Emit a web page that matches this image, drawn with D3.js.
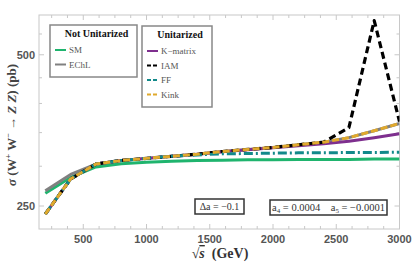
<!DOCTYPE html>
<html>
<head>
<meta charset="utf-8">
<script src="https://cdn.jsdelivr.net/npm/d3@7"></script>
<style>
  body { margin: 0; background: #fff; }
  svg { display: block; }
</style>
</head>
<body>
<svg width="413" height="268"></svg>
<script>
// sqrt(s) in GeV
const energies = [200, 400, 600, 800, 1000, 1200, 1400, 1600, 1800, 2000, 2200, 2400, 2600, 2800, 3000];

// cross sections (pb)
const smVals     = [265, 285, 299, 303.5, 305.5, 307, 308, 308.5, 309, 309, 309.5, 309.5, 309.5, 310, 310];
const echlVals   = [268, 289, 303, 308, 311, 314, 317, 321, 324, 327, 331, 335, 342, 353, 365];
const kmatVals   = [241, 283, 303, 308, 311, 314, 317, 320.5, 323.5, 326.5, 329.5, 332.5, 336.5, 342, 348];
const iamVals    = [241, 283, 303, 308, 311, 314, 317, 321, 324, 327, 331, 335, 358, 585, 368];
const ffVals     = [241, 283, 303, 308, 311, 314, 316, 317.5, 318, 318.5, 319, 319, 319.5, 319.5, 320];
const kinkVals   = [241, 283, 303, 308, 311, 314, 317, 321, 324, 327, 331, 335, 342, 353, 365];

const xTicks = [500, 1000, 1500, 2000, 2500, 3000];
const yTicks = [250, 500];
const yMinor = [300, 350, 400, 450, 550];

const series = [
  {name: 'SM',       vals: smVals,   color: '#1fb46e', dash: null,        width: 3,   group: 0},
  {name: 'EChL',     vals: echlVals, color: '#808080', dash: null,        width: 3,   group: 0},
  {name: 'K\u2212matrix', vals: kmatVals, color: '#7e2f8e', dash: null,   width: 3,   group: 1},
  {name: 'IAM',      vals: iamVals,  color: '#000000', dash: '7,4',       width: 3.2, group: 1},
  {name: 'FF',       vals: ffVals,   color: '#12898a', dash: '9,3,2,3',   width: 3,   group: 1},
  {name: 'Kink',     vals: kinkVals, color: '#e0a92d', dash: '7,3',       width: 3,   group: 1}
];

const svg = d3.select('svg');
const pl = 39, pr = 399.5, pt = 15, pb = 229;

const x = d3.scaleLinear().domain([150, 3000]).range([pl, pr]);
const y = d3.scaleLog().domain([225, 600]).range([pb, pt]);

const frameColor = '#c8c8c8';

// frame
svg.append('rect')
  .attr('x', pl).attr('y', pt)
  .attr('width', pr - pl).attr('height', pb - pt)
  .attr('fill', 'none').attr('stroke', frameColor).attr('stroke-width', 1);

// ticks on all four sides
const xMinor = d3.range(250, 3000, 125).filter(v => v % 500 !== 0);
const tickG = svg.append('g').attr('stroke', frameColor).attr('stroke-width', 1);
xTicks.forEach(v => {
  tickG.append('line').attr('x1', x(v)).attr('x2', x(v)).attr('y1', pb).attr('y2', pb - 5);
  tickG.append('line').attr('x1', x(v)).attr('x2', x(v)).attr('y1', pt).attr('y2', pt + 5);
});
xMinor.forEach(v => {
  tickG.append('line').attr('x1', x(v)).attr('x2', x(v)).attr('y1', pb).attr('y2', pb - 3);
  tickG.append('line').attr('x1', x(v)).attr('x2', x(v)).attr('y1', pt).attr('y2', pt + 3);
});
yTicks.forEach(v => {
  tickG.append('line').attr('x1', pl).attr('x2', pl + 5).attr('y1', y(v)).attr('y2', y(v));
  tickG.append('line').attr('x1', pr).attr('x2', pr - 5).attr('y1', y(v)).attr('y2', y(v));
});
yMinor.forEach(v => {
  tickG.append('line').attr('x1', pl).attr('x2', pl + 3).attr('y1', y(v)).attr('y2', y(v));
  tickG.append('line').attr('x1', pr).attr('x2', pr - 3).attr('y1', y(v)).attr('y2', y(v));
});

// tick labels
svg.append('g').selectAll('text').data(xTicks).join('text')
  .attr('x', d => x(d)).attr('y', pb + 14)
  .attr('text-anchor', 'middle')
  .attr('font-family', 'Liberation Sans, Arial, sans-serif')
  .attr('font-weight', 'bold').attr('font-size', 11).attr('fill', '#555')
  .text(d => d);
svg.append('g').selectAll('text').data(yTicks).join('text')
  .attr('x', pl - 4).attr('y', d => y(d) + 4)
  .attr('text-anchor', 'end')
  .attr('font-family', 'Liberation Sans, Arial, sans-serif')
  .attr('font-weight', 'bold').attr('font-size', 11).attr('fill', '#555')
  .text(d => d);

// curves
const line = d3.line().x((d, i) => x(energies[i])).y(d => y(d));
svg.append('defs').append('clipPath').attr('id', 'clip')
  .append('rect').attr('x', pl).attr('y', pt).attr('width', pr - pl).attr('height', pb - pt);
const curves = svg.append('g').attr('clip-path', 'url(#clip)');
series.forEach(s => {
  curves.append('path')
    .attr('d', line(s.vals))
    .attr('fill', 'none')
    .attr('stroke', s.color)
    .attr('stroke-width', s.width)
    .attr('stroke-dasharray', s.dash)
    .attr('stroke-linejoin', 'round');
});

// legends
const serif = 'Liberation Serif, Times New Roman, serif';
function legend(x0, y0, w, h, title, items) {
  const g = svg.append('g');
  g.append('rect').attr('x', x0).attr('y', y0).attr('width', w).attr('height', h)
    .attr('fill', '#fff').attr('stroke', '#888').attr('stroke-width', 1.5);
  g.append('text').attr('x', x0 + w / 2 + 3).attr('y', y0 + 12)
    .attr('text-anchor', 'middle').attr('font-family', serif)
    .attr('font-weight', 'bold').attr('font-size', 10).attr('fill', '#111')
    .text(title);
  items.forEach((s, i) => {
    const yy = y0 + 25 + i * 14.5;
    g.append('line').attr('x1', x0 + 5).attr('x2', x0 + 16).attr('y1', yy).attr('y2', yy)
      .attr('stroke', s.color).attr('stroke-width', 2)
      .attr('stroke-dasharray', s.dash ? '4,2' : null);
    g.append('text').attr('x', x0 + 19).attr('y', yy + 3)
      .attr('font-family', serif).attr('font-size', 9).attr('fill', '#555')
      .text(s.name);
  });
}
legend(50, 25, 87, 52, 'Not Unitarized', series.filter(s => s.group === 0));
legend(142, 26, 70, 81, 'Unitarized', series.filter(s => s.group === 1));

// parameter boxes
function box(x0, y0, w, h) {
  svg.append('rect').attr('x', x0).attr('y', y0).attr('width', w).attr('height', h)
    .attr('fill', '#fff').attr('stroke', '#333').attr('stroke-width', 1.5);
}
box(195, 199, 49, 15);
svg.append('text').attr('x', 219.5).attr('y', 210).attr('text-anchor', 'middle')
  .attr('font-family', serif).attr('font-size', 10).attr('fill', '#333')
  .text('\u0394a = \u22120.1');
box(270, 200, 117, 15);
const t2 = svg.append('text').attr('x', 328.5).attr('y', 211).attr('text-anchor', 'middle')
  .attr('font-family', serif).attr('font-size', 10.5).attr('fill', '#333');
t2.append('tspan').text('a');
t2.append('tspan').attr('font-size', 7).attr('dy', 2).text('4');
t2.append('tspan').attr('dy', -2).text('\u00A0= 0.0004\u00A0\u00A0\u00A0\u00A0a');
t2.append('tspan').attr('font-size', 7).attr('dy', 2).text('5');
t2.append('tspan').attr('dy', -2).text('\u00A0= \u22120.0001');

// axis titles
const xl = svg.append('text').attr('x', 220).attr('y', 258).attr('text-anchor', 'middle')
  .attr('font-family', serif).attr('font-weight', 'bold').attr('font-size', 14).attr('fill', '#333');
xl.append('tspan').text('\u221A');
xl.append('tspan').attr('font-style', 'italic').style('text-decoration', 'overline').text('s');
xl.append('tspan').text('\u00A0\u00A0(GeV)');

const yl = svg.append('text')
  .attr('transform', 'translate(16,125) rotate(-90)')
  .attr('text-anchor', 'middle')
  .attr('font-family', serif).attr('font-weight', 'bold').attr('font-size', 13).attr('fill', '#444');
yl.append('tspan').attr('font-style', 'italic').text('\u03C3');
yl.append('tspan').text(' (W');
yl.append('tspan').attr('font-size', 8).attr('dy', -5).text('+');
yl.append('tspan').attr('dy', 5).text(' W');
yl.append('tspan').attr('font-size', 8).attr('dy', -5).text('\u2212');
yl.append('tspan').attr('dy', 5).text(' \u2192 ');
yl.append('tspan').attr('font-style', 'italic').text('Z Z');
yl.append('tspan').text(') (pb)');
</script>
</body>
</html>
